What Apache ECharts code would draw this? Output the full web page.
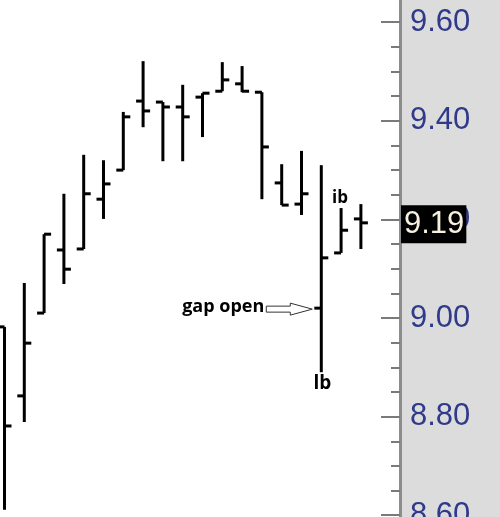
<!DOCTYPE html>
<html>
<head>
<meta charset="utf-8">
<script src="https://cdn.jsdelivr.net/npm/echarts@6/dist/echarts.min.js"></script>
<style>html,body{margin:0;padding:0;background:#dcdcdc;}#c{width:500px;height:517px;}</style>
</head>
<body>
<div id="c"></div>
<script>
// Bar sessions (index along x)
var sessions = ['1','2','3','4','5','6','7','8','9','10','11','12','13','14','15','16','17','18','19'];
var opens  = [8.982, 8.842, 9.010, 9.138, 9.140, 9.241, 9.300, 9.440, 9.438, 9.428, 9.448, 9.460, 9.475, 9.458, 9.274, 9.231, 9.020, 9.132, 9.201];
var highs  = [8.982, 9.071, 9.170, 9.252, 9.331, 9.320, 9.418, 9.521, 9.438, 9.473, 9.456, 9.519, 9.511, 9.458, 9.312, 9.339, 9.310, 9.223, 9.231];
var lows   = [8.611, 8.789, 9.010, 9.069, 9.140, 9.201, 9.300, 9.387, 9.318, 9.318, 9.367, 9.460, 9.458, 9.241, 9.229, 9.209, 8.890, 9.132, 9.140];
var closes = [8.781, 8.949, 9.170, 9.099, 9.252, 9.272, 9.408, 9.420, 9.428, 9.408, 9.456, 9.483, 9.460, 9.347, 9.229, 9.252, 9.122, 9.178, 9.193];
var lastPrice = 9.19;
var annotations = [
  {text: 'gap open', bar: 16, field: 'open'},
  {text: 'ib', bar: 17, field: 'high'},
  {text: 'lb', bar: 16, field: 'low'}
];

var data = sessions.map(function (s, i) { return [i, opens[i], closes[i], lows[i], highs[i]]; });

var chart = echarts.init(document.getElementById('c'), null, {renderer: 'canvas'});
var option = {
  animation: false,
  backgroundColor: '#dcdcdc',
  grid: {left: 0, right: 100, top: -76.4, bottom: -96.8, show: true, backgroundColor: '#ffffff', borderWidth: 0,
    containLabel: false, outerBoundsMode: 'none'},
  xAxis: {type: 'value', min: -0.227, max: 19.975, show: false},
  yAxis: {
    type: 'value', position: 'right', min: 8.4, max: 9.8, interval: 0.2,
    axisLine: {show: true, onZero: false, lineStyle: {color: '#8c8c8c', width: 3}},
    axisTick: {show: true, inside: true, length: 19, lineStyle: {color: '#7a7a7a', width: 2}},
    minorTick: {show: true, splitNumber: 4, length: 9, lineStyle: {color: '#7a7a7a', width: 2}},
    splitLine: {show: false},
    axisLabel: {margin: 10, color: '#2f3a8a', fontFamily: 'Liberation Sans', fontSize: 31,
      formatter: function (v) { return v.toFixed(2); }}
  },
  series: [{
    type: 'custom',
    data: data,
    clip: false,
    encode: {x: 0, y: [1, 2, 3, 4]},
    renderItem: function (params, api) {
      var x = api.value(0);
      var pO = api.coord([x, api.value(1)]);
      var pC = api.coord([x, api.value(2)]);
      var pL = api.coord([x, api.value(3)]);
      var pH = api.coord([x, api.value(4)]);
      var cx = pH[0];
      var st = {stroke: '#000', lineWidth: 3};
      return {type: 'group', children: [
        {type: 'line', shape: {x1: cx, y1: pH[1], x2: cx, y2: pL[1]}, style: st},
        {type: 'line', shape: {x1: cx - 7, y1: pO[1], x2: cx, y2: pO[1]}, style: st},
        {type: 'line', shape: {x1: cx, y1: pC[1], x2: cx + 7, y2: pC[1]}, style: st}
      ]};
    },
    markLine: {
      silent: true, symbol: 'none',
      lineStyle: {color: 'rgba(0,0,0,0)', width: 1, type: 'solid'},
      emphasis: {disabled: true},
      label: {show: true, position: 'end', distance: 1, backgroundColor: '#000000', color: '#f6f0dc',
        fontFamily: 'Liberation Sans', fontSize: 31, padding: [4, 2, 3, 3],
        formatter: function (p) { return Number(p.value).toFixed(2); }},
      data: [{yAxis: lastPrice}]
    }
  }]
};
chart.setOption(option);

function px(i, v) { return chart.convertToPixel({gridIndex: 0}, [i, v]); }
var fieldArr = {open: opens, high: highs, low: lows, close: closes};
var g = [];
annotations.forEach(function (a) {
  var p = px(a.bar, fieldArr[a.field][a.bar]);
  if (a.field === 'open') {
    var tx = p[0] - 9, ty = p[1] + 1;
    g.push({type: 'polygon', shape: {points: [
      [tx - 46, ty - 3], [tx - 22, ty - 3], [tx - 22, ty - 6], [tx, ty],
      [tx - 22, ty + 6], [tx - 22, ty + 3], [tx - 46, ty + 3]]},
      style: {fill: '#fff', stroke: '#333', lineWidth: 1}, z: 10});
    g.push({type: 'text', x: tx - 48, y: ty - 2, style: {text: a.text, fill: '#000',
      font: 'bold 18px "Open Sans"', textAlign: 'right', textVerticalAlign: 'middle'}, z: 10});
  } else if (a.field === 'high') {
    g.push({type: 'text', x: p[0] - 1, y: p[1] - 10, style: {text: a.text, fill: '#000',
      font: 'bold 17px "Open Sans"', textAlign: 'center', textVerticalAlign: 'middle'}, z: 10});
  } else {
    g.push({type: 'text', x: p[0] + 1, y: p[1] + 11, style: {text: a.text, fill: '#000',
      font: 'bold 19px "Open Sans"', textAlign: 'center', textVerticalAlign: 'middle'}, z: 10});
  }
});
chart.setOption({graphic: g});
</script>
</body>
</html>
